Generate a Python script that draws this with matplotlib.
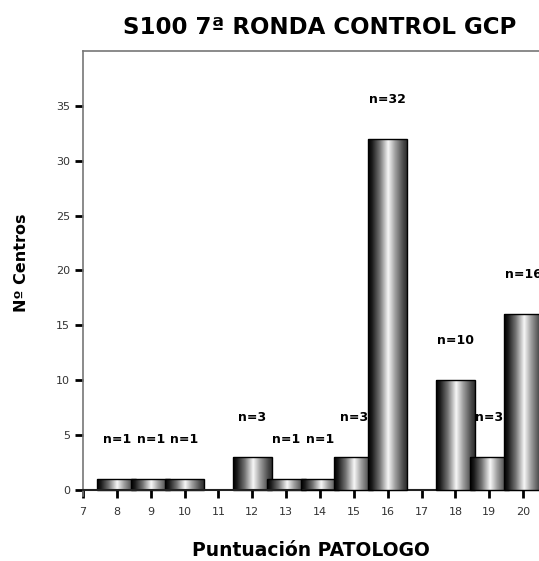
import numpy as np
import matplotlib
matplotlib.use("Agg")
import matplotlib.pyplot as plt
from matplotlib.colors import LinearSegmentedColormap

# Data
scores = [8, 9, 10, 12, 13, 14, 15, 16, 18, 19, 20]
counts = [1, 1, 1, 3, 1, 1, 3, 32, 10, 3, 16]
labels = ["n=1", "n=1", "n=1", "n=3", "n=1", "n=1", "n=3", "n=32", "n=10", "n=3", "n=16"]
x_ticks = list(range(7, 21))
y_ticks = [0, 5, 10, 15, 20, 25, 30, 35]

title = "S100 7ª RONDA CONTROL GCP"
xlabel = "Puntuación PATOLOGO"
ylabel = "Nº Centros"

fig = plt.figure(figsize=(5.39, 5.61), dpi=100)
ax = fig.add_axes([83/539, 65/561, (557-83)/539, (510-65)/561])

cmap = LinearSegmentedColormap.from_list("cyl", [
    (0.00, (0.00, 0.00, 0.00)),
    (0.10, (0.10, 0.10, 0.10)),
    (0.30, (0.45, 0.45, 0.45)),
    (0.52, (0.97, 0.97, 0.97)),
    (0.70, (0.62, 0.62, 0.62)),
    (0.90, (0.30, 0.30, 0.30)),
    (1.00, (0.18, 0.18, 0.18)),
])
grad = np.linspace(0, 1, 256).reshape(1, -1)

width = 1.15
bars = ax.bar(scores, counts, width=width, facecolor="none", edgecolor="black", linewidth=1.0)
for i, (b, s, c, lab) in enumerate(zip(bars, scores, counts, labels)):
    z = 2 + i * 0.1
    x0 = b.get_x()
    im = ax.imshow(grad, extent=[x0, x0 + width, 0, c], aspect="auto", cmap=cmap,
                   interpolation="bilinear", zorder=z)
    im.set_clip_path(b)
    b.set_zorder(z + 0.02)
    ax.text(s, c + 3.6, lab, ha="center", va="center", fontsize=9, fontweight="bold",
            zorder=z - 0.05)

ax.set_xlim(7, 21)
ax.set_ylim(-0.55, 40)
ax.set_xticks(x_ticks)
ax.set_yticks(y_ticks)

ax.spines["bottom"].set_position(("data", 0))
ax.spines["bottom"].set_linewidth(1.5)
ax.spines["bottom"].set_color("#222222")
for sp in ["left", "top", "right"]:
    ax.spines[sp].set_color("#777777")
    ax.spines[sp].set_linewidth(1.2)
ax.tick_params(axis="both", direction="out", length=6, width=2, color="black",
               labelsize=8, labelcolor="#333333")
ax.tick_params(axis="x", pad=6)

fig.text(320/539, 1 - 28/561, title, ha="center", va="center", fontsize=16.5, fontweight="bold")
fig.text(311/539, 1 - 551/561, xlabel, ha="center", va="center", fontsize=13.5, fontweight="bold")
fig.text(22/539, 1 - 263/561, ylabel, ha="center", va="center", rotation=90, fontsize=11.5,
         fontweight="bold")

fig.savefig("out.png", dpi=100)
